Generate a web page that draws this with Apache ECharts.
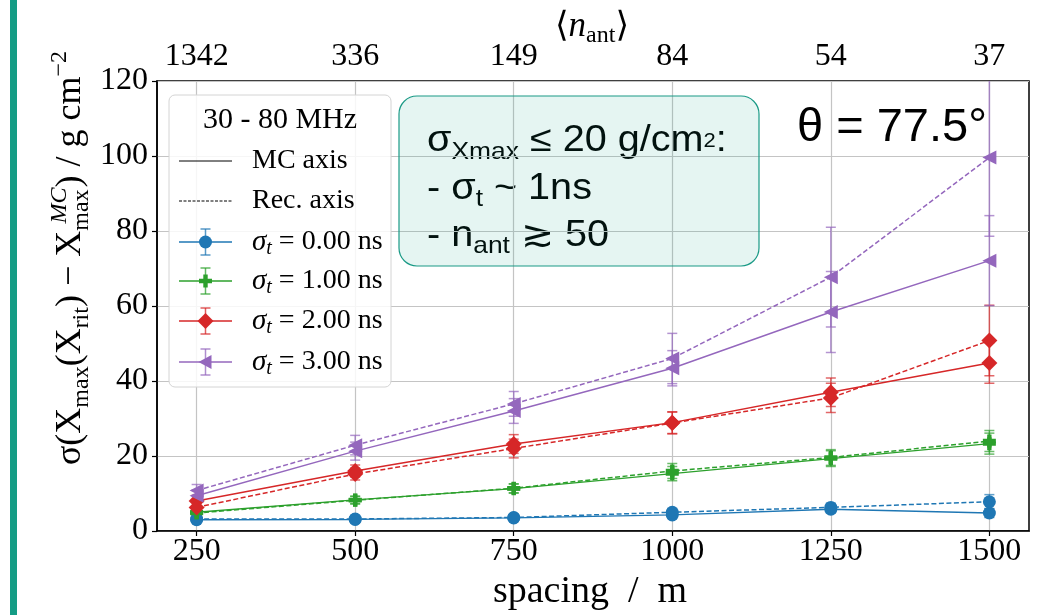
<!DOCTYPE html>
<html><head><meta charset="utf-8">
<script src="https://cdn.jsdelivr.net/npm/echarts@6/dist/echarts.min.js"></script>
<style>html,body{margin:0;padding:0;background:#fff}#c{width:1039px;height:615px}</style>
</head><body><div id="c"></div>
<script>
// ---------- data ----------
const spacing = [250, 500, 750, 1000, 1250, 1500];
const nAntLabels = ['1342', '336', '149', '84', '54', '37'];
const yTicks = [0, 20, 40, 60, 80, 100, 120];
const seriesLabels = ['0.00', '1.00', '2.00', '3.00'];

const sig0MC  = [3.0, 3.1, 3.5, 4.3, 5.8, 4.8];
const sig0Rec = [3.2, 3.2, 3.6, 5.0, 6.3, 7.8];
const sig1MC  = [5.0, 8.3, 11.3, 15.3, 19.3, 23.3];
const sig1Rec = [4.8, 8.2, 11.4, 16.0, 19.6, 24.0];
const sig2MC  = [8.0, 16.0, 23.2, 28.9, 37.0, 44.8];
const sig2Rec = [6.3, 15.2, 22.0, 28.8, 35.5, 50.8];
const sig3MC  = [9.4, 21.3, 32.0, 43.4, 58.4, 72.1];
const sig3Rec = [10.8, 22.9, 33.9, 46.0, 67.7, 99.6];

const err0MC  = [0.7, 0.6, 0.7, 0.9, 1.0, 1.2];
const err0Rec = [0.7, 0.6, 0.7, 1.0, 1.1, 1.9];
const err1MC  = [1.0, 1.0, 1.2, 1.9, 2.1, 2.8];
const err1Rec = [1.0, 1.0, 1.2, 2.0, 2.1, 2.8];
const err2MC  = [1.5, 1.6, 2.5, 2.9, 3.8, 5.4];
const err2Rec = [1.5, 1.6, 2.5, 2.9, 3.9, 9.4];
const err3MC  = [1.6, 2.4, 3.3, 4.7, 10.8, 12.0];
const err3Rec = [1.6, 2.6, 3.3, 6.7, 13.3, 21.0];

// ---------- styles ----------
const serif = "'Liberation Serif', 'DejaVu Serif', serif";
const sans = "'Liberation Sans', 'DejaVu Sans', sans-serif";
const plusPath = 'path://M1,0H2V1H3V2H2V3H1V2H0V1H1Z';
const groups = [
  {label: seriesLabels[0], color: '#1f77b4', symbol: 'circle', size: 13, rotate: 0, mc: sig0MC, rec: sig0Rec, emc: err0MC, erec: err0Rec},
  {label: seriesLabels[1], color: '#2ca02c', symbol: plusPath, size: 13, rotate: 0, mc: sig1MC, rec: sig1Rec, emc: err1MC, erec: err1Rec},
  {label: seriesLabels[2], color: '#d62728', symbol: 'diamond', size: 16, rotate: 0, mc: sig2MC, rec: sig2Rec, emc: err2MC, erec: err2Rec},
  {label: seriesLabels[3], color: '#9467bd', symbol: 'triangle', size: 14, rotate: 90, mc: sig3MC, rec: sig3Rec, emc: err3MC, erec: err3Rec}
];

function makeErr(color) {
  return function (params, api) {
    const x = api.value(0), lo = api.value(1), hi = api.value(2);
    const p1 = api.coord([x, lo]), p2 = api.coord([x, hi]);
    const cw = 5;
    const st = {stroke: color, lineWidth: 1.5, opacity: 0.7};
    return {type: 'group', children: [
      {type: 'line', shape: {x1: p1[0], y1: p1[1], x2: p2[0], y2: p2[1]}, style: st},
      {type: 'line', shape: {x1: p1[0] - cw, y1: p1[1], x2: p1[0] + cw, y2: p1[1]}, style: st},
      {type: 'line', shape: {x1: p2[0] - cw, y1: p2[1], x2: p2[0] + cw, y2: p2[1]}, style: st}
    ]};
  };
}

const series = [];
groups.forEach(g => {
  [['mc', 'emc', 'solid'], ['rec', 'erec', 'dashed']].forEach(([k, ek, ls]) => {
    series.push({
      type: 'custom', xAxisIndex: 0, yAxisIndex: 0, clip: true, z: 2, silent: true,
      data: spacing.map((x, i) => [x, g[k][i] - g[ek][i], g[k][i] + g[ek][i]]),
      encode: {x: 0, y: [1, 2]},
      renderItem: makeErr(g.color)
    });
    series.push({
      type: 'line', xAxisIndex: 0, yAxisIndex: 0, z: 3, silent: true,
      data: spacing.map((x, i) => [x, g[k][i]]),
      symbol: g.symbol, symbolSize: g.size, symbolRotate: g.rotate, showSymbol: true,
      lineStyle: {color: g.color, width: 1.5, type: ls === 'dashed' ? [5, 2.5] : 'solid'},
      itemStyle: {color: g.color, borderWidth: 0},
      emphasis: {disabled: true}
    });
  });
});

// ---------- legend (graphic) ----------
const LX1 = 179, LX2 = 232, LXC = 205.5, LTX = 252;
const legendEls = [
  {type: 'rect', shape: {x: 169, y: 95, width: 222, height: 292, r: 6},
   style: {fill: 'rgba(255,255,255,0.85)', stroke: '#d4d4d4', lineWidth: 1}},
  {type: 'text', style: {x: 280, y: 120, text: '30 - 80 MHz', font: '30px ' + serif, fill: '#000', textAlign: 'center', textVerticalAlign: 'middle'}},
  {type: 'line', shape: {x1: LX1, y1: 161, x2: LX2, y2: 161}, style: {stroke: '#000', lineWidth: 1}},
  {type: 'text', style: {x: LTX, y: 161, text: 'MC axis', font: '28px ' + serif, fill: '#000', textVerticalAlign: 'middle'}},
  {type: 'line', shape: {x1: LX1, y1: 201, x2: LX2, y2: 201}, style: {stroke: '#000', lineWidth: 1, lineDash: [3, 1.5]}},
  {type: 'text', style: {x: LTX, y: 201, text: 'Rec. axis', font: '28px ' + serif, fill: '#000', textVerticalAlign: 'middle'}}
];
const legY = [242, 281, 321, 362];
groups.forEach((g, i) => {
  const y = legY[i];
  const c = g.color;
  const st = {stroke: c, lineWidth: 1.5, opacity: 0.75};
  legendEls.push({type: 'line', shape: {x1: LX1, y1: y, x2: LX2, y2: y}, style: {stroke: c, lineWidth: 1.5}});
  legendEls.push({type: 'line', shape: {x1: LXC, y1: y - 13, x2: LXC, y2: y + 13}, style: st});
  legendEls.push({type: 'line', shape: {x1: LXC - 5, y1: y - 13, x2: LXC + 5, y2: y - 13}, style: st});
  legendEls.push({type: 'line', shape: {x1: LXC - 5, y1: y + 13, x2: LXC + 5, y2: y + 13}, style: st});
  let m;
  if (i === 0) m = {type: 'circle', shape: {cx: LXC, cy: y, r: 6.5}, style: {fill: c}};
  else if (i === 1) m = {type: 'polygon', shape: {points: [[LXC-2.2,y-6.5],[LXC+2.2,y-6.5],[LXC+2.2,y-2.2],[LXC+6.5,y-2.2],[LXC+6.5,y+2.2],[LXC+2.2,y+2.2],[LXC+2.2,y+6.5],[LXC-2.2,y+6.5],[LXC-2.2,y+2.2],[LXC-6.5,y+2.2],[LXC-6.5,y-2.2],[LXC-2.2,y-2.2]]}, style: {fill: c}};
  else if (i === 2) m = {type: 'polygon', shape: {points: [[LXC, y-8],[LXC+8, y],[LXC, y+8],[LXC-8, y]]}, style: {fill: c}};
  else m = {type: 'polygon', shape: {points: [[LXC-7, y],[LXC+6, y-7],[LXC+6, y+7]]}, style: {fill: c}};
  legendEls.push(m);
  legendEls.push({type: 'text', style: {x: LTX, y: y, textVerticalAlign: 'middle',
    text: '{i|σ}{s|t}{n| = ' + g.label + ' ns}',
    rich: {
      i: {fontFamily: serif, fontStyle: 'italic', fontSize: 29, lineHeight: 34, fill: '#000'},
      s: {fontFamily: serif, fontStyle: 'italic', fontSize: 20, lineHeight: 26, verticalAlign: 'bottom', fill: '#000'},
      n: {fontFamily: serif, fontSize: 28, lineHeight: 34, fill: '#000'}
    }}});
});

// ---------- annotations ----------
const boxRich = {
  b: {fontFamily: sans, fontSize: 36, lineHeight: 44, fill: '#000'},
  sub: {fontFamily: sans, fontSize: 24, lineHeight: 30, verticalAlign: 'bottom', fill: '#000'},
  sup: {fontFamily: sans, fontSize: 20, lineHeight: 46, fill: '#000'}
};
const annot = [
  {type: 'rect', shape: {x: 399, y: 96, width: 360, height: 170, r: 18},
   style: {fill: 'rgba(22,160,133,0.11)', stroke: '#1a9a86', lineWidth: 1.2}, z: 10},
  {type: 'group', x: 427, y: 0, scaleX: 1.1, z: 11, children: [
    {type: 'text', style: {x: 0, y: 141, textVerticalAlign: 'middle', text: '{b|σ}{sub|Xmax}{b| ≤ 20 g/cm}{sup|2}{b|:}', rich: boxRich}},
    {type: 'text', style: {x: 0, y: 189, textVerticalAlign: 'middle', text: '{b|- σ}{sub|t}{b| ~ 1ns}', rich: boxRich}},
    {type: 'text', style: {x: 0, y: 236, textVerticalAlign: 'middle', text: '{b|- n}{sub|ant}{b| ≳ 50}', rich: boxRich}}
  ]},
  {type: 'text', z: 11, style: {x: 797, y: 128, text: 'θ = 77.5°', font: '47px ' + sans, fill: '#000', textVerticalAlign: 'middle'}},
  {type: 'rect', shape: {x: 10, y: 0, width: 7, height: 615}, style: {fill: '#149c85'}},
  // y-axis title
  {type: 'text', x: 71, y: 258, rotation: Math.PI / 2, style: {x: 0, y: 0, textAlign: 'center', textVerticalAlign: 'middle',
    text: '{n|σ(X}{s|max}{n|(X}{s|rit}{n|) − X}{s|max}{u|MC}{n|) / g cm}{p|−2}',
    rich: {
      n: {fontFamily: serif, fontSize: 36, lineHeight: 46, fill: '#000'},
      s: {fontFamily: serif, fontSize: 24, lineHeight: 30, verticalAlign: 'bottom', fill: '#000'},
      u: {fontFamily: serif, fontStyle: 'italic', fontSize: 24, lineHeight: 30, verticalAlign: 'top', fill: '#000', padding: [0, 0, 0, -34]},
      p: {fontFamily: serif, fontSize: 24, lineHeight: 30, verticalAlign: 'top', fill: '#000'}
    }}},
  // x-axis title
  {type: 'text', style: {x: 590, y: 592, text: 'spacing  /  m', font: '38px ' + serif, fill: '#000', textAlign: 'center', textVerticalAlign: 'middle'}},
  // top axis title
  {type: 'text', style: {x: 592, y: 27, textAlign: 'center', textVerticalAlign: 'middle',
    text: '{n|⟨}{i|n}{s|ant}{n|⟩}',
    rich: {
      n: {fontFamily: serif, fontSize: 35, lineHeight: 42, fill: '#000'},
      i: {fontFamily: serif, fontStyle: 'italic', fontSize: 35, lineHeight: 42, fill: '#000'},
      s: {fontFamily: serif, fontSize: 24, lineHeight: 28, verticalAlign: 'bottom', fill: '#000'}
    }}}
];

const option = {
  animation: false,
  backgroundColor: '#fff',
  grid: {left: 157, top: 81, width: 872, height: 450, show: true, borderColor: '#000', borderWidth: 1.5,
         backgroundColor: 'transparent', containLabel: false, outerBoundsMode: 'none'},
  xAxis: [
    {type: 'value', position: 'bottom', min: 187.5, max: 1562.5,
     axisLine: {show: true, onZero: false, lineStyle: {color: '#000', width: 1.5}},
     axisTick: {show: true, inside: false, length: 5, customValues: spacing, lineStyle: {color: '#000', width: 1.2}},
     axisLabel: {show: true, customValues: spacing, margin: 5, color: '#000', fontFamily: serif, fontSize: 32,
                 formatter: v => String(v)},
     splitLine: {show: true, lineStyle: {color: '#c4c4c4', width: 1.2}},
     minorTick: {show: false}},
    {type: 'value', position: 'top', min: 187.5, max: 1562.5,
     axisLine: {show: false},
     axisTick: {show: false, customValues: spacing},
     axisLabel: {show: true, customValues: spacing, margin: 8, color: '#000', fontFamily: serif, fontSize: 32,
                 formatter: v => nAntLabels[spacing.indexOf(v)] || ''},
     splitLine: {show: false}}
  ],
  yAxis: {type: 'value', min: 0, max: 120, interval: 20,
    axisLine: {show: true, lineStyle: {color: '#000', width: 1.5}},
    axisTick: {show: true, inside: false, length: 5, lineStyle: {color: '#000', width: 1.2}},
    axisLabel: {show: true, margin: 9, color: '#000', fontFamily: serif, fontSize: 32,
                formatter: v => (yTicks.indexOf(v) >= 0 ? String(v) : '')},
    splitLine: {show: true, lineStyle: {color: '#c4c4c4', width: 1.2}}},
  series: series,
  graphic: {elements: annot.concat(legendEls.map(e => Object.assign({z: 20}, e)))}
};
const chart = echarts.init(document.getElementById('c'));
chart.setOption(option);
</script>
</body></html>
